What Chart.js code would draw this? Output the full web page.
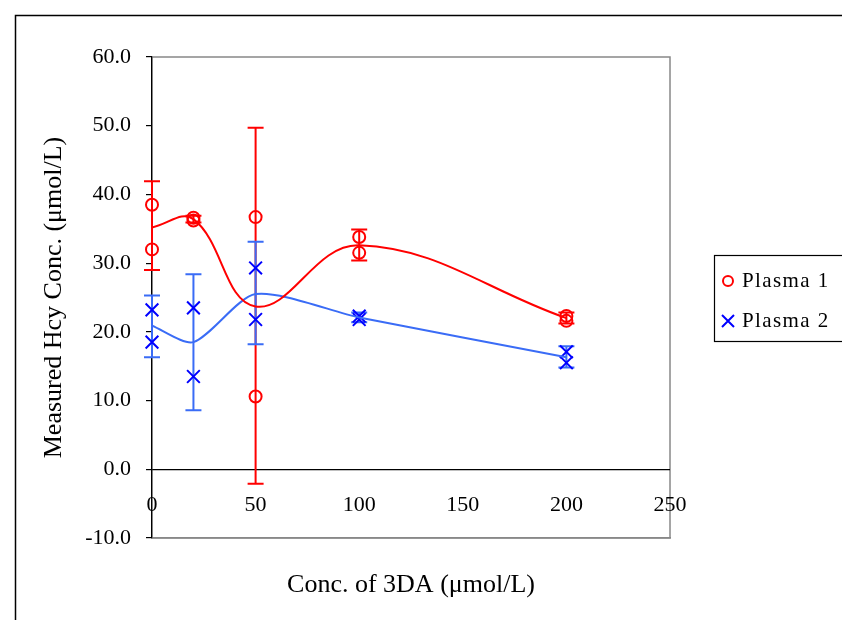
<!DOCTYPE html>
<html>
<head>
<meta charset="utf-8">
<script src="https://cdn.jsdelivr.net/npm/chart.js@4"></script>
<style>
  html, body { margin: 0; padding: 0; background: #fff; }
  #wrap { width: 842px; height: 620px; }
</style>
</head>
<body>
<div id="wrap"><canvas id="chart" width="842" height="620"></canvas></div>
<script>
// data
const concX = [0, 20, 50, 100, 200];

const plasma1A = [38.5, 36.6, 36.7, 33.8, 22.3];
const plasma1B = [32.0, 36.2, 10.6, 31.5, 21.6];
const plasma1Mean = [35.2, 36.4, 23.7, 32.6, 22.0];
const plasma1Lo = [29.0, 35.9, -2.1, 30.4, 21.2];
const plasma1Hi = [41.9, 36.9, 49.7, 34.9, 22.8];

const plasma2A = [23.2, 23.5, 29.3, 22.3, 17.1];
const plasma2B = [18.5, 13.5, 21.8, 21.8, 15.5];
const plasma2Mean = [20.9, 18.5, 25.5, 22.1, 16.3];
const plasma2Lo = [16.3, 8.6, 18.2, 21.4, 14.8];
const plasma2Hi = [25.3, 28.4, 33.1, 22.8, 17.9];

const yTicks = [-10, 0, 10, 20, 30, 40, 50, 60];
const xTicks = [0, 50, 100, 150, 200, 250];

const RED = '#ff0000';
const BLUE = '#0000ff';
const BLUE_LINE = '#3a6cf6';
const FONT = 'Liberation Serif';

const pts = (xs, ys) => xs.map((x, i) => ({ x: x, y: ys[i] }));

const errorBars = {
  id: 'errorBars',
  beforeDatasetsDraw(chart) {
    const { ctx, scales: { x, y } } = chart;
    const sets = [
      { lo: plasma1Lo, hi: plasma1Hi, color: RED },
      { lo: plasma2Lo, hi: plasma2Hi, color: BLUE_LINE }
    ];
    ctx.save();
    ctx.lineWidth = 2;
    sets.forEach(s => {
      ctx.strokeStyle = s.color;
      concX.forEach((cx, i) => {
        const px = x.getPixelForValue(cx);
        const top = y.getPixelForValue(s.hi[i]);
        const bot = y.getPixelForValue(s.lo[i]);
        ctx.beginPath();
        ctx.moveTo(px, top); ctx.lineTo(px, bot);
        ctx.moveTo(px - 8, top); ctx.lineTo(px + 8, top);
        ctx.moveTo(px - 8, bot); ctx.lineTo(px + 8, bot);
        ctx.stroke();
      });
    });
    ctx.restore();
  }
};

const frame = {
  id: 'frame',
  beforeDraw(chart) {
    const { ctx, chartArea: a } = chart;
    ctx.save();
    ctx.fillStyle = '#fff';
    ctx.fillRect(0, 0, chart.width, chart.height);
    ctx.strokeStyle = '#000';
    ctx.lineWidth = 1.5;
    ctx.strokeRect(15.5, 15.5, 1000, 1000);
    ctx.strokeStyle = '#888';
    ctx.lineWidth = 1.5;
    ctx.strokeRect(a.left, a.top, a.right - a.left, a.bottom - a.top);
    ctx.restore();
  },
  afterDraw(chart) {
    const ctx = chart.ctx;
    ctx.save();
    ctx.strokeStyle = '#000';
    ctx.lineWidth = 1.2;
    ctx.strokeRect(714.5, 255.5, 200, 86);
    ctx.font = '21px "' + FONT + '"';
    ctx.letterSpacing = '1.4px';
    ctx.fillStyle = '#000';
    ctx.textBaseline = 'middle';
    ctx.fillText('Plasma 1', 742, 281);
    ctx.fillText('Plasma 2', 742, 321);
    ctx.lineWidth = 2;
    ctx.strokeStyle = RED;
    ctx.beginPath();
    ctx.arc(728, 281, 5, 0, Math.PI * 2);
    ctx.stroke();
    ctx.strokeStyle = BLUE;
    ctx.beginPath();
    ctx.moveTo(722, 315); ctx.lineTo(734, 327);
    ctx.moveTo(734, 315); ctx.lineTo(722, 327);
    ctx.stroke();
    ctx.restore();
  }
};

new Chart(document.getElementById('chart'), {
  type: 'scatter',
  data: {
    datasets: [
      {
        label: 'Plasma 1 mean', type: 'line', data: pts(concX, plasma1Mean),
        borderColor: RED, borderWidth: 2, tension: 0.4, pointRadius: 0, fill: false
      },
      {
        label: 'Plasma 2 mean', type: 'line', data: pts(concX, plasma2Mean),
        borderColor: BLUE_LINE, borderWidth: 2, tension: 0.25, pointRadius: 0, fill: false
      },
      {
        label: 'Plasma 1', data: pts(concX, plasma1A).concat(pts(concX, plasma1B)),
        pointStyle: 'circle', pointRadius: 6, borderColor: RED, borderWidth: 2,
        backgroundColor: 'transparent', clip: false
      },
      {
        label: 'Plasma 2', data: pts(concX, plasma2A).concat(pts(concX, plasma2B)),
        pointStyle: 'crossRot', pointRadius: 9, borderColor: BLUE, borderWidth: 2,
        backgroundColor: 'transparent', clip: false
      }
    ]
  },
  options: {
    responsive: false,
    animation: false,
    layout: { padding: { top: 57, right: 172, bottom: 0, left: 0 } },
    plugins: { legend: { display: false }, tooltip: { enabled: false } },
    scales: {
      x: {
        type: 'linear', min: 0, max: 250,
        afterFit: s => { s.height = 82; },
        afterBuildTicks: s => { s.ticks = xTicks.map(v => ({ value: v })); },
        grid: { display: true, drawOnChartArea: false, drawTicks: false },
        border: { color: '#888', width: 1.5 },
        ticks: { mirror: true, padding: 20, color: '#000', font: { family: FONT, size: 22 } },
        title: {
          display: true, text: 'Conc. of 3DA (μmol/L)', color: '#000',
          font: { family: FONT, size: 26 }, padding: { top: 0, bottom: 19 }
        }
      },
      y: {
        type: 'linear', min: -10, max: 60,
        afterFit: s => { s.width = 152; },
        afterBuildTicks: s => { s.ticks = yTicks.map(v => ({ value: v })); },
        grid: {
          color: c => (c.tick && c.tick.value === 0 ? '#000' : 'transparent'),
          tickColor: '#000', tickLength: 6, lineWidth: 1.2
        },
        border: { color: '#000', width: 1.2 },
        ticks: {
          padding: 15, color: '#000', font: { family: FONT, size: 22 },
          callback: v => v.toFixed(1)
        },
        title: {
          display: true, text: 'Measured Hcy Conc. (μmol/L)', color: '#000',
          font: { family: FONT, size: 26 }, padding: { top: 39, bottom: 0 }
        }
      }
    }
  },
  plugins: [frame, errorBars]
});
</script>
</body>
</html>
